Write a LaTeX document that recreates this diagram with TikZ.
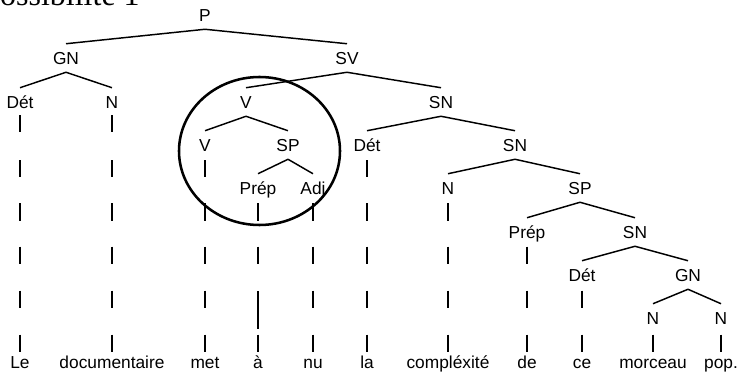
\documentclass[tikz,border=0pt]{standalone}
\usepackage{fontspec}
\setmainfont{Liberation Sans}
\newfontfamily\serifhead{Liberation Serif}
\usetikzlibrary{shapes.geometric}
\begin{document}
\begin{tikzpicture}[x=0.75pt,y=-0.75pt,
  lab/.style={inner sep=0pt,text height=9.4pt,text depth=0pt,minimum height=21pt,
    font=\fontsize{13}{15}\selectfont},
  edge/.style={line width=1.1pt,black},
  barline/.style={line width=1.4pt,black},
  ring/.style={line width=1.9pt,black}]
\useasboundingbox (0,0) rectangle (746,374);
\begin{scope}
\clip (0,0) rectangle (746,374);
\node[anchor=base east,inner sep=0pt,font=\serifhead\fontsize{24}{28}\selectfont] (title) at (140,5.5) {Possibilité 1};
\end{scope}
% labels
\node[lab] (P) at (205,15) {P};
\node[lab] (GN) at (66,58) {GN};
\node[lab] (SV) at (347,58) {SV};
\node[lab] (Det1) at (20,102) {Dét};
\node[lab] (N1) at (112,102) {N};
\node[lab] (V1) at (246,102) {V};
\node[lab] (SN1) at (441,102) {SN};
\node[lab] (V2) at (205,145) {V};
\node[lab] (SP1) at (288,145) {SP};
\node[lab] (Det2) at (367,145) {Dét};
\node[lab] (SN2) at (515,145) {SN};
\node[lab] (Prep1) at (258,188) {Prép};
\node[lab] (Adj) at (313,188) {Adj};
\node[lab] (N2) at (448,188) {N};
\node[lab] (SP2) at (580,188) {SP};
\node[lab] (Prep2) at (527,232) {Prép};
\node[lab] (SN3) at (635,232) {SN};
\node[lab] (Det3) at (582,275) {Dét};
\node[lab] (GN2) at (688,275) {GN};
\node[lab] (N3) at (653,318) {N};
\node[lab] (N4) at (721,318) {N};
% words
\node[lab] (w1) at (20,362) {Le};
\node[lab] (w2) at (112,362) {documentaire};
\node[lab] (w3) at (205,362) {met};
\node[lab] (w4) at (258,362) {à};
\node[lab] (w5) at (313,362) {nu};
\node[lab] (w6) at (367,362) {la};
\node[lab] (w7) at (448,362) {compléxité};
\node[lab] (w8) at (527,362) {de};
\node[lab] (w9) at (582,362) {ce};
\node[lab] (w10) at (653,362) {morceau};
\node[lab] (w11) at (721,362) {pop.};
% tree edges
\foreach \a/\b in {P/GN,P/SV,GN/Det1,GN/N1,SV/V1,SV/SN1,V1/V2,V1/SP1,SN1/Det2,SN1/SN2,
  SP1/Prep1,SP1/Adj,SN2/N2,SN2/SP2,SP2/Prep2,SP2/SN3,SN3/Det3,SN3/GN2,GN2/N3,GN2/N4}
  \draw[edge] (\a.south) -- (\b.north);
% vertical bars
\foreach \x/\ys in {20/{124,169,212,255,299,343},112/{124,169,212,255,299,343},
  205/{169,212,255,299,343},258/{212,255,343},313/{212,255,299,343},
  367/{169,212,255,299,343},448/{212,255,299,343},527/{255,299,343},
  582/{299,343},653/{343},721/{343}}
  \foreach \y in \ys
    \draw[barline] (\x,\y-8.5) -- (\x,\y+8.5);
\coordinate (lbA) at (258,291);
\coordinate (lbB) at (258,329);
\draw[barline] (lbA) -- (lbB);
% circle
\node[ring,draw,ellipse,inner sep=0pt,minimum width=120.75pt,minimum height=111pt] (ring) at (259.5,151) {};
\end{tikzpicture}
\end{document}
